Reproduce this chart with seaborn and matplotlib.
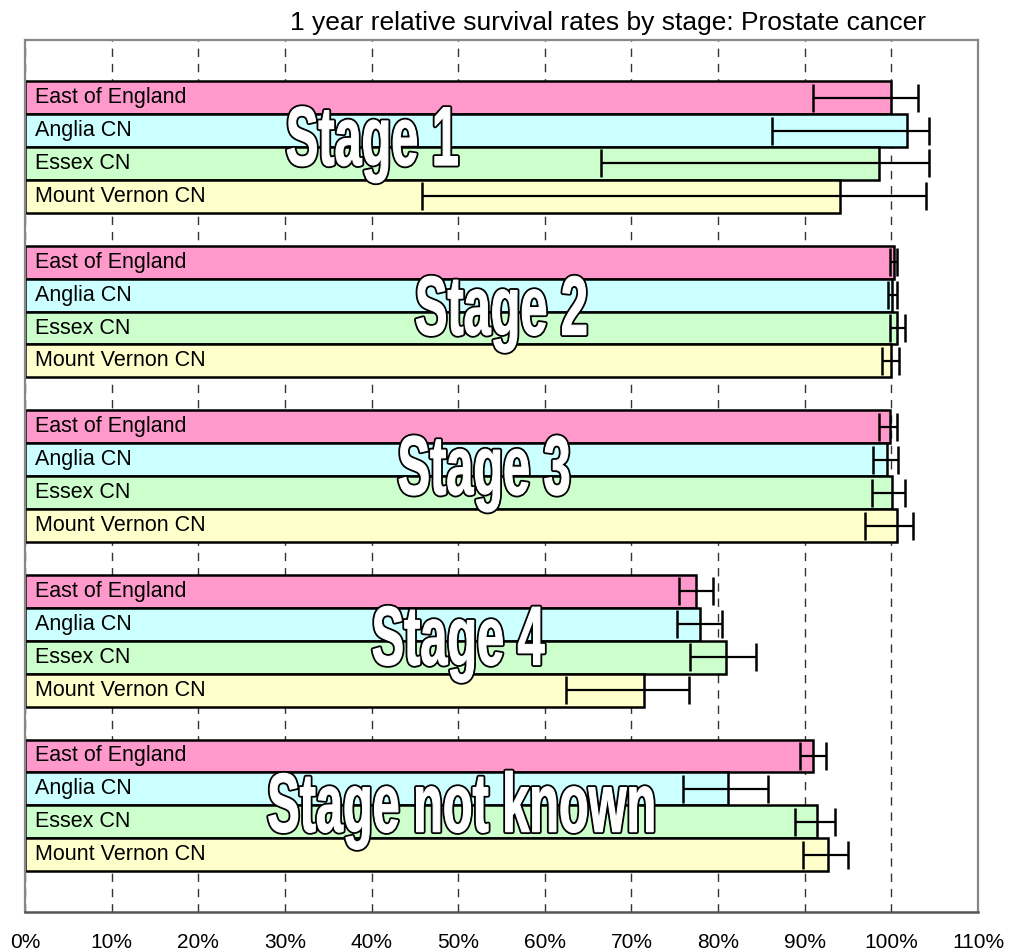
import matplotlib
matplotlib.use("Agg")
import matplotlib.pyplot as plt
import seaborn as sns
import pandas as pd
from matplotlib.patheffects import AbstractPathEffect
from matplotlib.transforms import Affine2D
from matplotlib.ticker import FixedLocator, FuncFormatter

# ---------------- data ----------------
title = "1 year relative survival rates by stage: Prostate cancer"
stages = ["Stage 1", "Stage 2", "Stage 3", "Stage 4", "Stage not known"]
regions = ["East of England", "Anglia CN", "Essex CN", "Mount Vernon CN"]
colors = ["#FF99CC", "#CCFFFF", "#CCFFCC", "#FFFFCC"]

east_rate = [100.0, 100.3, 99.8, 77.5, 90.9]
anglia_rate = [101.8, 100.1, 99.5, 77.9, 81.2]
essex_rate = [98.6, 100.6, 100.1, 80.9, 91.4]
mv_rate = [94.1, 100.0, 100.7, 71.5, 92.7]

east_lo = [91.0, 99.9, 98.6, 75.5, 89.4]
anglia_lo = [86.2, 99.6, 97.9, 75.3, 75.9]
essex_lo = [66.5, 99.8, 97.8, 76.7, 88.9]
mv_lo = [45.8, 98.9, 97.0, 62.5, 89.8]

east_hi = [103.1, 100.7, 100.7, 79.4, 92.4]
anglia_hi = [104.3, 100.7, 100.8, 80.4, 85.8]
essex_hi = [104.3, 101.6, 101.6, 84.4, 93.5]
mv_hi = [104.0, 100.9, 102.5, 76.6, 95.0]

x_ticks = [0, 10, 20, 30, 40, 50, 60, 70, 80, 90, 100, 110]

# placement of the big stage captions (x in %, baseline offset in category units)
stage_label_x = [40.1, 55.0, 53.0, 50.0, 50.4]
stage_label_dy = [0.11, 0.14, 0.11, 0.145, 0.16]

rates = [east_rate, anglia_rate, essex_rate, mv_rate]
lows = [east_lo, anglia_lo, essex_lo, mv_lo]
highs = [east_hi, anglia_hi, essex_hi, mv_hi]

rows = []
for r, vals in zip(regions, rates):
    for s, v in zip(stages, vals):
        rows.append({"stage": s, "region": r, "rate": v})
df = pd.DataFrame(rows)

# ---------------- style ----------------
sns.set_style("white")
plt.rcParams["font.family"] = ["Liberation Sans", "DejaVu Sans"]
plt.rcParams["text.color"] = "black"
plt.rcParams["xtick.color"] = "black"
plt.rcParams["xtick.labelcolor"] = "black"


class TallOutline(AbstractPathEffect):
    """Draws the text path stretched vertically (about its baseline),
    white glyphs with a black outline -- mimics a bold condensed poster font."""

    def __init__(self, sx=1.0, sy=1.72, outer=3.4, inner=0.8):
        super().__init__()
        self.sx, self.sy, self.outer, self.inner = sx, sy, outer, inner

    def draw_path(self, renderer, gc, tpath, affine, rgbFace=None):
        disp = affine.transform_path(tpath)
        ext = disp.get_extents()
        cx = (ext.x0 + ext.x1) / 2
        oy = affine.transform((0.0, 0.0))[1]  # baseline in display coords
        sq = Affine2D().translate(-cx, -oy).scale(self.sx, self.sy).translate(cx, oy)
        tr = affine + sq
        for lw, ec in ((self.outer, "black"), (self.inner, "white")):
            gc0 = renderer.new_gc()
            gc0.copy_properties(gc)
            gc0.set_linewidth(lw)
            gc0.set_foreground(ec)
            gc0.set_joinstyle("round")
            renderer.draw_path(gc0, tpath, tr, (1.0, 1.0, 1.0, 1.0))
            gc0.restore()


W, H = 1009, 952
fig = plt.figure(figsize=(W / 100, H / 100), dpi=100)
ax = fig.add_axes([25 / W, (H - 912) / H, 953 / W, 872 / H])

sns.barplot(
    data=df, y="stage", x="rate", hue="region", hue_order=regions, order=stages,
    palette=colors, orient="h", errorbar=None, edgecolor="black", linewidth=1.8,
    width=0.8, saturation=1, legend=False, ax=ax, zorder=2,
)

for cont, region, rv, lo, hi in zip(ax.containers, regions, rates, lows, highs):
    ycs = [p.get_y() + p.get_height() / 2 for p in cont]
    ax.errorbar(
        rv, ycs, xerr=[[v - l for v, l in zip(rv, lo)], [h - v for v, h in zip(rv, hi)]],
        fmt="none", ecolor="black", elinewidth=1.6, capsize=10, capthick=1.8, zorder=4,
    )
    for yc in ycs:
        ax.annotate(region, xy=(0, yc), xytext=(7, 0), textcoords="offset points",
                    ha="left", va="center", fontsize=15.5, color="black", zorder=5)

for i, (s, sxp, dy) in enumerate(zip(stages, stage_label_x, stage_label_dy)):
    ax.text(sxp, i + dy, s, ha="center", va="baseline", fontsize=35,
            fontweight="bold", color="white", zorder=6,
            path_effects=[TallOutline(sx=1.0, sy=1.72, outer=3.4, inner=0.8)])

ax.set_xlim(0, 110)
ax.set_ylim(4.648, -0.65)
ax.xaxis.set_major_locator(FixedLocator(x_ticks))
ax.xaxis.set_major_formatter(FuncFormatter(lambda v, p: f"{v:.0f}%"))
ax.tick_params(axis="x", length=0, pad=15, labelsize=15, labelcolor="black")
ax.set_yticks([])
ax.set_xlabel("")
ax.set_ylabel("")
ax.set_axisbelow(True)
ax.xaxis.grid(True, linestyle=(0, (6, 5)), color="#333333", linewidth=1.0, zorder=0)
for side in ["top", "right", "left"]:
    ax.spines[side].set_color("#888888")
    ax.spines[side].set_linewidth(1.6)
ax.spines["bottom"].set_color("#555555")
ax.spines["bottom"].set_linewidth(1.8)

fig.text(608 / W, 1 - 23 / H, title, ha="center", va="center", fontsize=19, color="black")

fig.savefig("out.png", dpi=100)
